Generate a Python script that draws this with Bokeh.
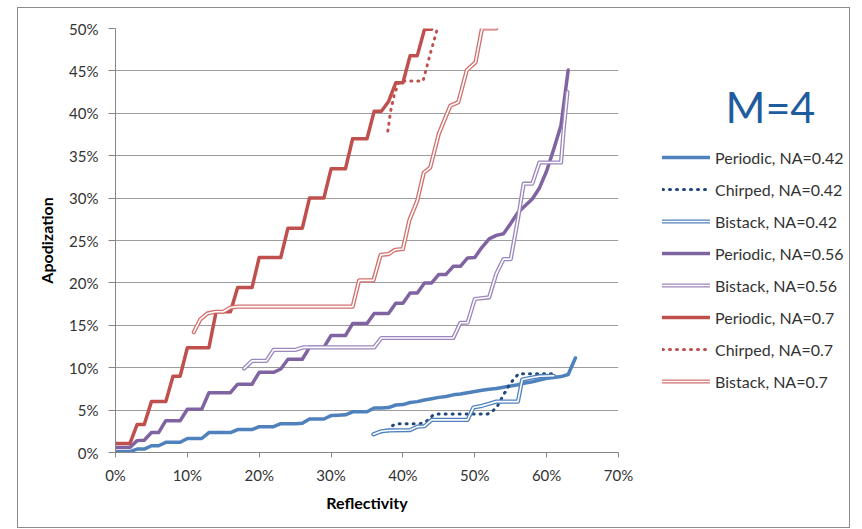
from bokeh.plotting import figure
from bokeh.layouts import row
from bokeh.models import (Legend, LegendItem, Label, PrintfTickFormatter,
                          FixedTicker, Range1d)
from bokeh.embed import file_html
from bokeh.resources import INLINE

# ---- data (reflectivity % vs apodization %) ----
per42_R = [0, 1, 2, 3, 4, 5, 6, 7, 8, 9, 10, 11, 12, 13, 14, 15, 16, 17, 18, 19,
           20, 21, 22, 23, 24, 25, 26, 27, 28, 29, 30, 31, 32, 33, 34, 35, 36, 37,
           38, 39, 40, 41, 42, 43, 44, 45, 46, 47, 48, 49, 50, 51, 52, 53, 54, 55,
           56, 57, 58, 59, 60, 61, 62, 63, 64]
per42_A = [0.1, 0.1, 0.1, 0.4, 0.4, 0.8, 0.8, 1.2, 1.2, 1.2, 1.65, 1.65, 1.65,
           2.35, 2.35, 2.35, 2.35, 2.7, 2.7, 2.7, 3.05, 3.05, 3.05, 3.4, 3.4, 3.4,
           3.45, 3.95, 3.95, 3.95, 4.35, 4.4, 4.45, 4.8, 4.8, 4.8, 5.25, 5.25, 5.3,
           5.6, 5.65, 5.9, 6.0, 6.2, 6.35, 6.5, 6.6, 6.8, 6.9, 7.05, 7.2, 7.35,
           7.45, 7.55, 7.7, 7.85, 8.0, 8.2, 8.35, 8.55, 8.75, 8.85, 8.95, 9.2, 11.15]

chi42_R = [37.9, 38.6, 39.3, 42.4, 43.3, 44.2, 44.8, 51.8, 52.5, 53.1, 54.0, 54.9,
           56.1, 61.2]
chi42_A = [2.55, 3.2, 3.4, 3.4, 3.7, 4.4, 4.55, 4.55, 4.9, 5.4, 6.8, 8.1, 9.3, 9.3]

bis42_R = [35.9, 37.0, 38.0, 41.0, 42.0, 43.0, 44.0, 49.0, 49.8, 51.0, 52.0, 53.0,
           56.0, 56.6, 58.0, 59.0, 61.0]
bis42_A = [2.15, 2.5, 2.6, 2.65, 3.05, 3.1, 3.85, 3.85, 5.3, 5.5, 5.75, 6.0, 6.0,
           8.6, 8.85, 9.0, 9.05]

per56_R = [0, 1, 2, 3, 4, 5, 6, 7, 8, 9, 10, 11, 12, 13, 14, 15, 16, 17, 18, 19,
           20, 21, 22, 23, 24, 25, 26, 27, 28, 29, 30, 31, 32, 33, 34, 35, 36, 37,
           38, 39, 40, 41, 42, 43, 44, 45, 46, 47, 48, 49, 50, 51, 52, 53, 54, 55,
           56, 57, 58, 59, 60, 61, 62, 63]
per56_A = [0.6, 0.6, 0.6, 1.4, 1.45, 2.35, 2.35, 3.75, 3.75, 3.75, 5.1, 5.1, 5.1,
           7.05, 7.05, 7.05, 7.05, 8.05, 8.05, 8.05, 9.45, 9.45, 9.45, 9.85, 11.0,
           11.0, 11.0, 12.4, 12.4, 12.4, 13.8, 13.8, 13.8, 15.2, 15.2, 15.2, 16.4,
           16.4, 16.4, 17.6, 17.6, 18.8, 18.8, 20.0, 20.0, 21.0, 21.0, 21.95, 21.95,
           22.95, 23.0, 24.2, 25.2, 25.6, 25.8, 27.0, 28.3, 29.1, 29.9, 31.2, 33.2,
           35.8, 38.6, 45.1]

bis56_R = [17.9, 19.0, 21.0, 22.0, 25.0, 26.2, 36.0, 37.0, 47.0, 48.0, 49.0, 50.0,
           52.0, 53.0, 54.0, 55.0, 56.0, 56.8, 58.0, 59.0, 62.0, 62.4, 62.9]
bis56_A = [9.9, 10.8, 10.8, 12.1, 12.1, 12.4, 12.4, 13.5, 13.5, 15.3, 15.3, 18.1,
           18.3, 21.1, 22.8, 22.8, 27.5, 31.7, 31.7, 34.2, 34.2, 38.4, 42.5]

per70_R = [0, 1, 2, 3, 4, 5, 6, 7, 8, 9, 10, 11, 12, 13, 14, 15, 16, 17, 18, 19,
           20, 21, 22, 23, 24, 25, 26, 27, 28, 29, 30, 31, 32, 33, 34, 35, 36, 37,
           38, 39, 40, 41, 42, 43, 44]
per70_A = [1.05, 1.05, 1.05, 3.3, 3.3, 6.0, 6.0, 6.0, 9.0, 9.0, 12.35, 12.35,
           12.35, 12.35, 16.6, 16.6, 16.6, 19.45, 19.45, 19.45, 23.0, 23.0, 23.0,
           23.0, 26.45, 26.45, 26.45, 30.0, 30.0, 30.0, 33.45, 33.45, 33.45, 37.0,
           37.0, 37.0, 40.25, 40.25, 41.4, 43.6, 43.6, 46.8, 46.8, 49.9, 49.9]

chi70_R = [37.9, 38.3, 38.8, 39.5, 42.8, 43.8, 44.8]
chi70_A = [37.9, 40.3, 42.2, 43.8, 43.8, 47.0, 50.0]

bis70_R = [10.9, 11.8, 12.8, 13.9, 15.0, 16.0, 17.0, 33.0, 33.9, 35.9, 36.9, 38.0,
           38.9, 40.0, 40.9, 42.0, 42.9, 43.8, 45.0, 46.6, 47.7, 48.9, 50.1, 51.0,
           53.0]
bis70_A = [14.2, 15.7, 16.4, 16.6, 16.6, 17.1, 17.2, 17.2, 20.3, 20.3, 23.3, 23.4,
           23.9, 24.0, 27.4, 29.7, 33.0, 33.6, 37.6, 40.9, 41.3, 45.1, 46.0, 50.0,
           50.0]

x_ticks = [0, 10, 20, 30, 40, 50, 60, 70]
y_ticks = [0, 5, 10, 15, 20, 25, 30, 35, 40, 45, 50]

BLUE = "#4F81BD"
NAVY = "#1F497D"
PURPLE = "#8064A2"
PURPLE_LT = "#9B86BD"
RED = "#C0504D"
RED_LT = "#D06F6C"
FONT = "Lato"
TXT = "#333333"

# ---------------- main chart ----------------
p = figure(width=620, height=519, output_backend="svg", toolbar_location=None,
           x_range=Range1d(0, 70), y_range=Range1d(0, 50),
           min_border_left=97, min_border_right=20,
           min_border_top=20, min_border_bottom=75)
p.outline_line_color = None
p.border_fill_color = "white"

p.xgrid.visible = False
p.ygrid.grid_line_color = "#9c9c9c"
p.ygrid.grid_line_width = 1

for ax in (p.xaxis[0], p.yaxis[0]):
    ax.axis_line_color = "#868686"
    ax.major_tick_line_color = "#868686"
    ax.major_tick_in = 0
    ax.minor_tick_line_color = None
    ax.major_label_text_font = FONT
    ax.major_label_text_font_size = "15px"
    ax.major_label_text_color = TXT
    ax.axis_label_text_font = FONT
    ax.axis_label_text_font_style = "bold"
    ax.axis_label_text_font_size = "16px"
    ax.axis_label_text_color = "#000000"
    ax.formatter = PrintfTickFormatter(format="%d%%")

p.xaxis.ticker = FixedTicker(ticks=x_ticks)
p.yaxis.ticker = FixedTicker(ticks=y_ticks)
p.xaxis.major_tick_out = 5
p.yaxis.major_tick_out = 7
p.xaxis.major_label_standoff = 8
p.yaxis.major_label_standoff = 10
p.xaxis.axis_label = "Reflectivity"
p.yaxis.axis_label = "Apodization"
p.xaxis.axis_label_standoff = 6
p.yaxis.axis_label_standoff = 10


def solid(fig, xs, ys, color):
    return [fig.line(xs, ys, line_color=color, line_width=3.5,
                     line_join="round", line_cap="round")]


def dotted(fig, xs, ys, color):
    return [fig.line(xs, ys, line_color=color, line_width=3, line_dash="1 6",
                     line_cap="round", line_join="round")]


def double(fig, xs, ys, color):
    outer = fig.line(xs, ys, line_color=color, line_width=4.2,
                     line_join="round", line_cap="round")
    inner = fig.line(xs, ys, line_color="white", line_width=1.6,
                     line_join="round", line_cap="round")
    return [outer, inner]


series = [
    ("Periodic, NA=0.42", solid, per42_R, per42_A, BLUE),
    ("Chirped, NA=0.42", dotted, chi42_R, chi42_A, NAVY),
    ("Bistack, NA=0.42", double, bis42_R, bis42_A, BLUE),
    ("Periodic, NA=0.56", solid, per56_R, per56_A, PURPLE),
    ("Bistack, NA=0.56", double, bis56_R, bis56_A, PURPLE_LT),
    ("Periodic, NA=0.7", solid, per70_R, per70_A, RED),
    ("Chirped, NA=0.7", dotted, chi70_R, chi70_A, RED),
    ("Bistack, NA=0.7", double, bis70_R, bis70_A, RED_LT),
]

for _, draw, xs, ys, color in series:
    draw(p, xs, ys, color)

# ---------------- side panel: legend + title ----------------
# The series are repeated here only to feed the legend keys; this panel's
# ranges sit below zero, so none of the lines themselves are visible.
side = figure(width=211, height=519, output_backend="svg", toolbar_location=None,
              x_range=Range1d(-20, -10), y_range=Range1d(-20, -10),
              x_axis_location=None, y_axis_location=None,
              min_border_left=0, min_border_right=0,
              min_border_top=0, min_border_bottom=0)
side.outline_line_color = None
side.grid.visible = False
side.border_fill_color = "white"

items = []
for label, draw, xs, ys, color in series:
    items.append(LegendItem(label=label, renderers=draw(side, xs, ys, color)))

legend = Legend(items=items, location=(24, 61), glyph_width=48, glyph_height=20,
                label_height=20, spacing=12, padding=0, margin=0,
                label_standoff=5, border_line_color=None,
                background_fill_alpha=0, label_text_font=FONT,
                label_text_font_size="16px", label_text_color=TXT)
side.add_layout(legend)

side.add_layout(Label(x=87, y=346, x_units="screen", y_units="screen",
                      text="M=4", text_font=FONT, text_font_size="43px",
                      text_color="#1F5C9E", text_baseline="alphabetic"))

layout = row(p, side, spacing=0)
layout.styles = {"border": "1px solid #8c8c8c", "margin": "7px 0 0 17px",
                 "background": "white"}

open("out.html", "w").write(file_html(layout, INLINE))
